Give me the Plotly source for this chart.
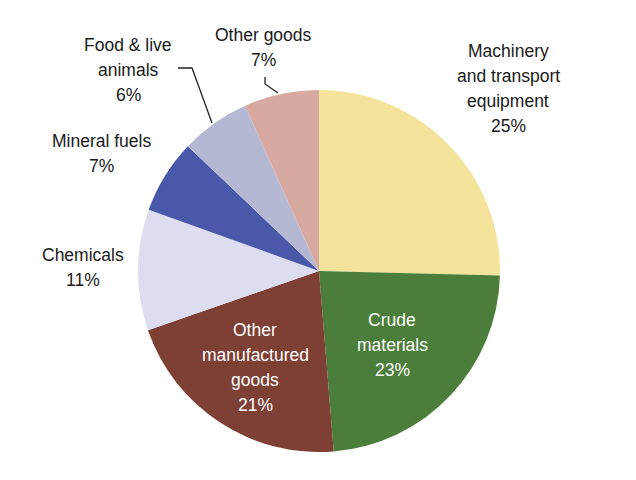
import plotly.graph_objects as go

# ---- data ----
categories = ["Machinery and transport equipment", "Crude materials",
              "Other manufactured goods", "Chemicals", "Mineral fuels",
              "Food & live animals", "Other goods"]
label_lines = [["Machinery", "and transport", "equipment"],
               ["Crude", "materials"],
               ["Other", "manufactured", "goods"],
               ["Chemicals"],
               ["Mineral fuels"],
               ["Food & live", "animals"],
               ["Other goods"]]
shares = [25.4, 23.3, 21.0, 10.8, 6.6, 6.2, 6.7]
colors = ["#F4E49B", "#4B7E3A", "#7E3F34", "#DCDDF1", "#4A58AA", "#B4B8D2", "#D8A9A1"]

W, H = 636, 480
OFF = 8  # page body margin offset

# label layout (pixel centre of first line, text colour)
label_pos = [(508, 51, "#1a1a1a"), (392, 320, "white"), (255, 330, "white"),
             (83, 255, "#1a1a1a"), (101, 141, "#1a1a1a"), (128, 45, "#1a1a1a"),
             (263, 35, "#1a1a1a")]
line_gap = 25

cx, cy, r = 319 - OFF, 271 - OFF, 181

fig = go.Figure(go.Pie(
    labels=categories, values=shares, sort=False, direction="clockwise",
    rotation=0, marker=dict(colors=colors, line=dict(width=0)),
    textinfo="none", hoverinfo="label+percent", showlegend=False,
    domain=dict(x=[(cx - r) / W, (cx + r) / W], y=[1 - (cy + r) / H, 1 - (cy - r) / H]),
))

total = sum(shares)
annotations = []
for lines, val, (px, py, col) in zip(label_lines, shares, label_pos):
    all_lines = lines + [f"{round(val / total * 100)}%"]
    for i, t in enumerate(all_lines):
        annotations.append(dict(
            x=(px - OFF) / W, y=1 - (py - OFF + i * line_gap) / H, xref="paper", yref="paper",
            text=t, showarrow=False, xanchor="center", yanchor="middle",
            font=dict(family="Liberation Sans, Arial", size=17.5, color=col)))

def path(pts):
    return "M " + " L ".join(f"{(x - OFF) / W},{1 - (y - OFF) / H}" for x, y in pts)

shapes = [
    dict(type="path", xref="paper", yref="paper", path=path([(178, 68), (192, 68), (212, 123)]),
         line=dict(color="#222222", width=1.3)),
    dict(type="path", xref="paper", yref="paper", path=path([(265, 77), (265, 84), (278, 93)]),
         line=dict(color="#222222", width=1.3)),
]

fig.update_layout(width=W, height=H, margin=dict(l=0, r=0, t=0, b=0),
                  paper_bgcolor="white", plot_bgcolor="white",
                  annotations=annotations, shapes=shapes)

fig.write_html("out.html")
